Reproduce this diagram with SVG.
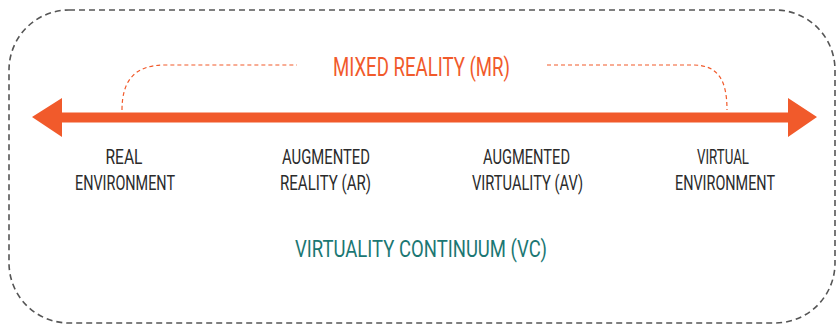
<svg xmlns="http://www.w3.org/2000/svg" width="836" height="325" viewBox="0 0 836 325">
<style>
.lbl{font-family:Roboto,"Liberation Sans",sans-serif;font-size:20.5px;fill:#2b2b2b;text-anchor:middle}
.mr{font-family:Roboto,"Liberation Sans",sans-serif;font-size:25.5px;fill:#f15a2b;text-anchor:middle}
.vc{font-family:Roboto,"Liberation Sans",sans-serif;font-size:24.5px;fill:#1b7773;text-anchor:middle}
</style>
<rect width="836" height="325" fill="#ffffff"/>
<g id="frame">
<rect x="9" y="10" width="826" height="313" rx="60" ry="60" fill="none" stroke="#555555" stroke-width="1.6" stroke-dasharray="6 4"/>
</g>
<g id="connectors">
<path d="M122,110 C122,80 135,65 165,65 L297,65" fill="none" stroke="#f15a2b" stroke-width="1.2" stroke-dasharray="4 3"/>
<path d="M547,65 L693,65 C718,65 727,80 727,110" fill="none" stroke="#f15a2b" stroke-width="1.2" stroke-dasharray="4 3"/>
<polygon points="32,117 62,98 62,112.5 788,112.5 788,98 817,117 788,137 788,122.5 62,122.5 62,137" fill="#f15a2b"/>
</g>
<g id="mr"><text class="mr" x="421.5" y="76" textLength="177" lengthAdjust="spacingAndGlyphs">MIXED REALITY (MR)</text></g>
<g id="real"><text class="lbl" x="124" y="163.5" textLength="37" lengthAdjust="spacingAndGlyphs">REAL</text><text class="lbl" x="125" y="189.5" textLength="100" lengthAdjust="spacingAndGlyphs">ENVIRONMENT</text></g>
<g id="ar"><text class="lbl" x="326" y="163.5" textLength="88" lengthAdjust="spacingAndGlyphs">AUGMENTED</text><text class="lbl" x="325.5" y="189.5" textLength="91" lengthAdjust="spacingAndGlyphs">REALITY (AR)</text></g>
<g id="av"><text class="lbl" x="526.5" y="163.5" textLength="87" lengthAdjust="spacingAndGlyphs">AUGMENTED</text><text class="lbl" x="527.5" y="189.5" textLength="111" lengthAdjust="spacingAndGlyphs">VIRTUALITY (AV)</text></g>
<g id="ve"><text class="lbl" x="723" y="163.5" textLength="52" lengthAdjust="spacingAndGlyphs">VIRTUAL</text><text class="lbl" x="725" y="189.5" textLength="100" lengthAdjust="spacingAndGlyphs">ENVIRONMENT</text></g>
<g id="vc"><text class="vc" x="421" y="257" textLength="252" lengthAdjust="spacingAndGlyphs">VIRTUALITY CONTINUUM (VC)</text></g>
</svg>
